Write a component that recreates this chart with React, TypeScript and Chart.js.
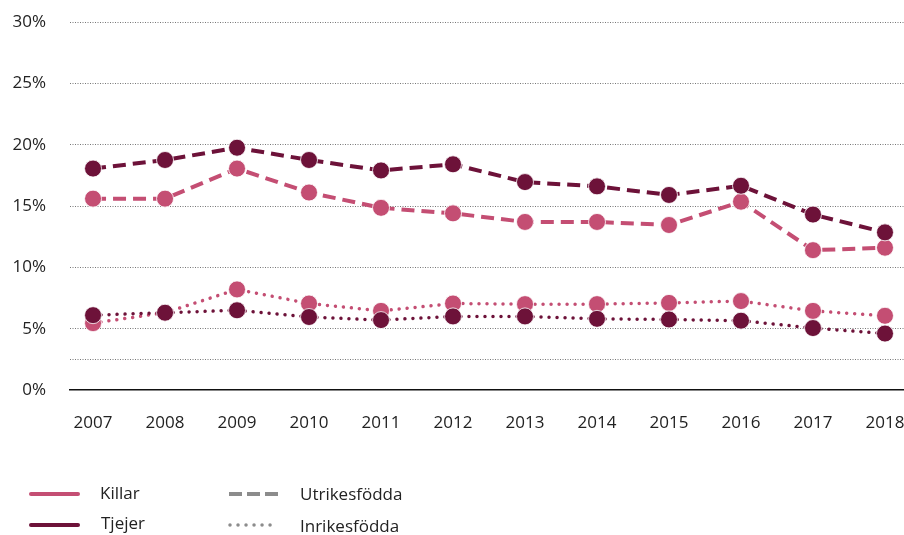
import React, { useEffect, useRef } from "react";
import { Chart, registerables } from "chart.js";
Chart.register(...registerables);

const years = [2007, 2008, 2009, 2010, 2011, 2012, 2013, 2014, 2015, 2016, 2017, 2018];
const killarUtrikes = [15.6, 15.6, 18.05, 16.1, 14.85, 14.4, 13.7, 13.7, 13.45, 15.35, 11.4, 11.6];
const tjejerUtrikes = [18.05, 18.75, 19.75, 18.75, 17.9, 18.4, 16.95, 16.6, 15.9, 16.65, 14.3, 12.85];
const killarInrikes = [5.45, 6.3, 8.2, 7.05, 6.45, 7.05, 7.0, 7.0, 7.1, 7.25, 6.45, 6.05];
const tjejerInrikes = [6.1, 6.3, 6.5, 5.95, 5.7, 6.0, 6.0, 5.8, 5.75, 5.65, 5.05, 4.6];
const yGridValues = [0, 2.5, 5, 10, 15, 20, 25, 30];

const PINK = "#c44e73";
const DARK = "#6d1239";
const GREY = "#8c8c8c";
const FONT = "'Open Sans', 'Noto Sans', sans-serif";

function series(values: number[]) {
  return values.map((v, i) => ({ x: years[i], y: v }));
}

export default function App() {
  const ref = useRef<HTMLCanvasElement | null>(null);
  useEffect(() => {
    if (!ref.current) return;
    const mk = (label: string, values: number[], color: string, dotted: boolean) => ({
      label,
      data: series(values),
      borderColor: color,
      backgroundColor: color,
      borderWidth: dotted ? 3.5 : 4,
      borderDash: dotted ? [0.01, 8] : [13, 7],
      borderCapStyle: dotted ? "round" : "butt",
      pointRadius: 8.5,
      pointHoverRadius: 8.5,
      pointBackgroundColor: color,
      pointBorderColor: "rgba(255,255,255,0.8)",
      pointBorderWidth: 1,
      tension: 0,
      clip: false,
    });
    const chart = new Chart(ref.current, {
      type: "line",
      data: {
        datasets: [
          mk("Tjejer Utrikesfödda", tjejerUtrikes, DARK, false),
          mk("Killar Utrikesfödda", killarUtrikes, PINK, false),
          mk("Tjejer Inrikesfödda", tjejerInrikes, DARK, true),
          mk("Killar Inrikesfödda", killarInrikes, PINK, true),
        ] as any,
      },
      options: {
        animation: false,
        responsive: false,
        maintainAspectRatio: false,
        layout: { autoPadding: false, padding: { top: 22, right: 0, bottom: 100, left: 0 } },
        plugins: { legend: { display: false }, tooltip: { enabled: false } },
        scales: {
          x: {
            type: "linear",
            min: 2006.68,
            max: 2018.264,
            afterBuildTicks: (axis: any) => {
              axis.ticks = years.map((v) => ({ value: v }));
            },
            afterFit: (scale: any) => {
              scale.height = 45;
              scale.paddingLeft = 0;
              scale.paddingRight = 0;
            },
            grid: { display: false, drawTicks: false },
            border: { display: true, color: "#111", width: 1.5 },
            ticks: {
              padding: 23,
              color: "#222",
              font: { family: FONT, size: 17 },
              callback: (v: any) => String(v),
              maxRotation: 0,
              autoSkip: false,
            },
          },
          y: {
            min: 0,
            max: 30,
            afterBuildTicks: (axis: any) => {
              axis.ticks = yGridValues.map((v) => ({ value: v }));
            },
            afterFit: (scale: any) => {
              scale.width = 70;
              scale.paddingTop = 0;
              scale.paddingBottom = 0;
            },
            grid: {
              drawTicks: false,
              color: (ctx: any) => (ctx.tick && ctx.tick.value === 0 ? "rgba(0,0,0,0)" : "#777"),
              lineWidth: 1,
            },
            border: { display: false, dash: [1, 1.5] },
            ticks: {
              padding: 24,
              color: "#222",
              font: { family: FONT, size: 17 },
              callback: (v: any) => (Number(v) % 5 === 0 ? v + "%" : ""),
              autoSkip: false,
            },
          },
        },
      } as any,
    });
    return () => chart.destroy();
  }, []);

  const textStyle: React.CSSProperties = {
    position: "absolute",
    fontFamily: FONT,
    fontSize: 17,
    color: "#222",
    lineHeight: "20px",
    whiteSpace: "nowrap",
  };

  return (
    <div style={{ position: "absolute", left: 0, top: 0, width: 904, height: 535, background: "#fff" }}>
      <canvas ref={ref} width={904} height={535} style={{ position: "absolute", left: 0, top: 0, width: 904, height: 535 }} />
      <svg width={904} height={535} style={{ position: "absolute", left: 0, top: 0, pointerEvents: "none" }}>
        <line x1={31} y1={494} x2={78} y2={494} stroke={PINK} strokeWidth={4} strokeLinecap="round" />
        <line x1={31} y1={525} x2={78} y2={525} stroke={DARK} strokeWidth={4} strokeLinecap="round" />
        <line x1={229} y1={494} x2={278} y2={494} stroke={GREY} strokeWidth={4} strokeDasharray="13 5" strokeLinecap="butt" />
        <line x1={230} y1={525} x2={278} y2={525} stroke={GREY} strokeWidth={3.5} strokeDasharray="0.01 8" strokeLinecap="round" />
      </svg>
      <div style={{ ...textStyle, left: 100, top: 483 }}>Killar</div>
      <div style={{ ...textStyle, left: 101, top: 513 }}>Tjejer</div>
      <div style={{ ...textStyle, left: 300, top: 484 }}>Utrikesfödda</div>
      <div style={{ ...textStyle, left: 300, top: 516 }}>Inrikesfödda</div>
    </div>
  );
}
